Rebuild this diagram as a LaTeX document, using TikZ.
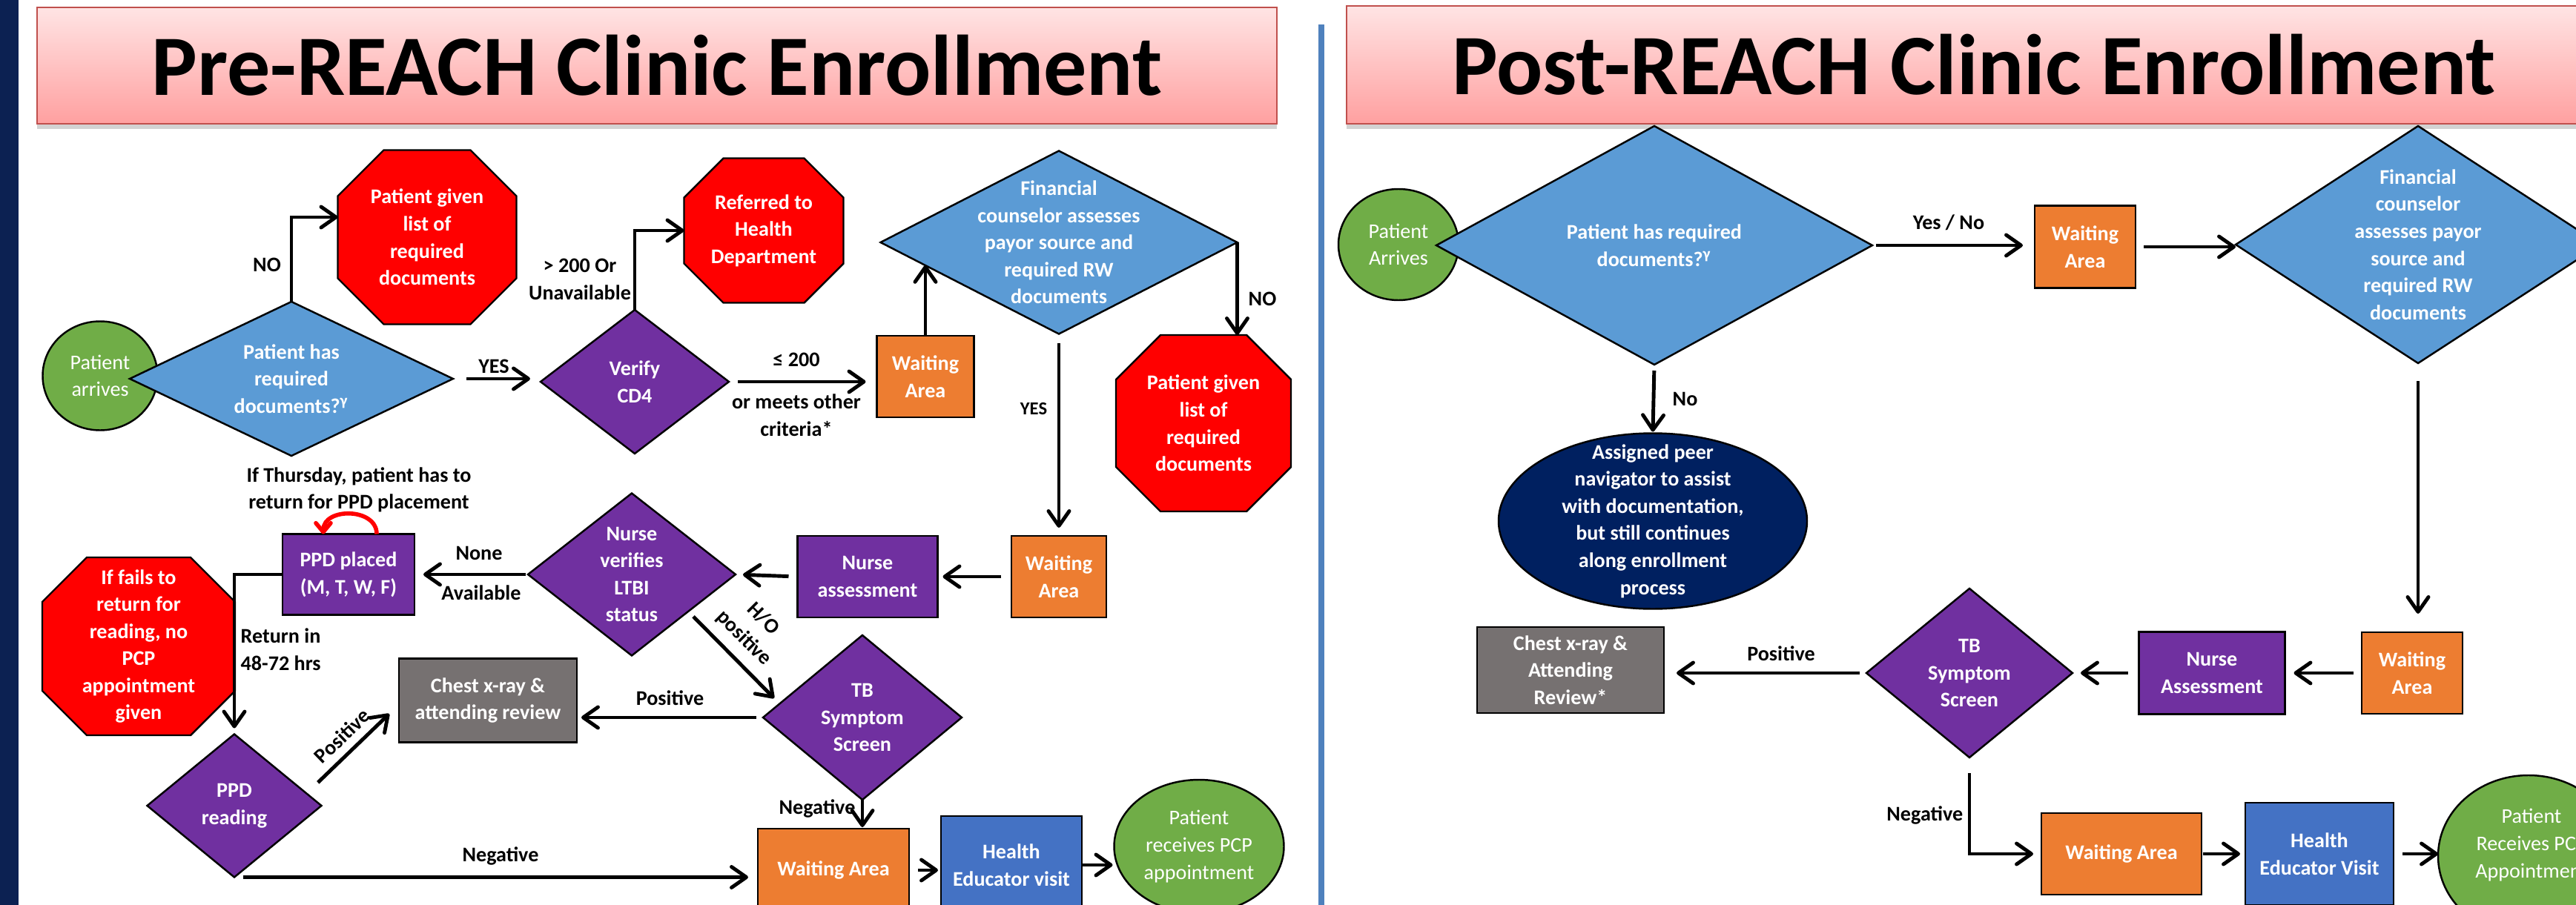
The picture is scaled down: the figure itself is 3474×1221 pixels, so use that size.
\documentclass[tikz,border=0pt]{standalone}
\usepackage{fontspec}
\setmainfont{Carlito}
\usetikzlibrary{shapes.geometric,arrows.meta,shadows,calc}
\definecolor{cgreen}{RGB}{112,173,71}
\definecolor{cblue}{RGB}{91,155,213}
\definecolor{cpurple}{RGB}{112,48,160}
\definecolor{corange}{RGB}{237,125,49}
\definecolor{cred}{RGB}{255,0,0}
\definecolor{cgrey}{RGB}{118,113,113}
\definecolor{cdblue}{RGB}{68,114,196}
\definecolor{cnavy}{RGB}{0,32,96}
\definecolor{cbar}{RGB}{12,33,82}
\definecolor{cdiv}{RGB}{79,129,189}
\definecolor{ttop}{RGB}{255,228,228}
\definecolor{tbot}{RGB}{255,160,160}
\definecolor{tborder}{RGB}{192,80,77}
\tikzset{
 shp/.style={draw=black, line width=0.7pt, inner sep=0pt, outer sep=0pt},
 sz/.style 2 args={minimum width=#1*0.01cm, minimum height=#2*0.01cm},
 dia/.style={shp, diamond},
 box/.style={shp, rectangle},
 oval/.style={shp, ellipse},
 stopframe/.style={rectangle, inner sep=0pt, outer sep=0pt},
 stopfill/.style={fill=cred, draw=black, line width=0.7pt},
 txt/.style={text=white, font=\fontsize{8}{10.4}\selectfont\bfseries, align=center, inner sep=0pt},
 txtl/.style={text=white, font=\fontsize{8}{10.4}\selectfont, align=center, inner sep=0pt},
 lbl/.style={text=black, font=\fontsize{8}{10.4}\selectfont\bfseries, align=center, inner sep=0pt},
 conn/.style={line width=1.4pt, -{Straight Barb[length=2mm,width=2.8mm,round]}},
 redloop/.style={draw=cred, line width=1.6pt, -{Straight Barb[length=1.2mm,width=2mm,round]}},
 ttl/.style={draw=tborder, line width=0.8pt, top color=ttop, bottom color=tbot,
   drop shadow={shadow xshift=0pt, shadow yshift=-2pt, opacity=0.35},
   font=\fontsize{33}{38}\selectfont\bfseries, inner sep=0pt},
}
% octagon drawn round a named frame node: #1 node name, #2 chamfer (px)
\newcommand{\octofill}[2]{%
  \path[stopfill] ($(#1.north west)+(#2,0)$) -- ($(#1.north east)+(-#2,0)$)
   -- ($(#1.north east)+(0,#2)$) -- ($(#1.south east)+(0,-#2)$)
   -- ($(#1.south east)+(-#2,0)$) -- ($(#1.south west)+(#2,0)$)
   -- ($(#1.south west)+(0,-#2)$) -- ($(#1.north west)+(0,#2)$) -- cycle;}
\begin{document}
\begin{tikzpicture}[x=0.01cm, y=-0.01cm]
\useasboundingbox (0,0) rectangle (3474,1221);
\clip (0,0) rectangle (3474,1221);
\fill[white] (0,0) rectangle (3474,1221);
\fill[cbar] (0,0) rectangle (25,1221);
\fill[cdiv] (1778,33) rectangle (1786,1221);

% titles
\node[ttl, sz={1672}{157}] (t1) at (886,88.5) {Pre-REACH Clinic Enrollment};
\node[ttl, sz={1692}{159}] (t2) at (2662,87.5) {Post-REACH Clinic Enrollment};

% ---------------- LEFT PANEL ----------------
\node[oval, fill=cgreen, sz={155}{147}] (a1) at (135,507) {};
\node[txtl] (a1t) at (a1.center) {Patient\\arrives};
\node[dia, fill=cblue, sz={436}{208}] (d1) at (393,511) {};
\node[txt] (d1t) at (d1.center) {Patient has\\required\\documents?\textsuperscript{γ}};
\node[stopframe, sz={241}{235}] (o1) at (576,320) {};
\octofill{o1}{62}
\node[txt] (o1t) at (o1.center) {Patient given\\list of\\required\\documents};
\node[dia, fill=cpurple, sz={254}{194}] (v) at (856,515) {};
\node[txt] (vt) at (v.center) {Verify\\CD4};
\node[stopframe, sz={215}{195}] (o2) at (1030,311) {};
\octofill{o2}{53}
\node[txt] (o2t) at (o2.center) {Referred to\\Health\\Department};
\node[box, fill=corange, sz={131}{110}] (w1) at (1248,508) {};
\node[txt] (w1t) at (w1.center) {Waiting\\Area};
\node[dia, fill=cblue, sz={481}{247}] (f1) at (1428,327) {};
\node[txt] (f1t) at (f1.center) {Financial\\counselor assesses\\payor source and\\required RW\\documents};
\node[stopframe, sz={236}{238}] (o3) at (1623,571) {};
\octofill{o3}{60}
\node[txt] (o3t) at (o3.center) {Patient given\\list of\\required\\documents};
\node[box, fill=corange, sz={128}{110}] (w2) at (1428,778) {};
\node[txt] (w2t) at (w2.center) {Waiting\\Area};
\node[box, fill=cpurple, sz={189}{110}] (na) at (1170,778) {};
\node[txt] (nat) at (na.center) {Nurse\\assessment};
\node[dia, fill=cpurple, sz={280}{219}] (nv) at (852,775) {};
\node[txt] (nvt) at (nv.center) {Nurse\\verifies\\LTBI\\status};
\node[box, fill=cpurple, sz={178}{109}] (ppd) at (470,775) {};
\node[txt] (ppdt) at (ppd.center) {PPD placed\\(M, T, W, F)};
\node[stopframe, sz={260}{240}] (o4) at (187,872) {};
\octofill{o4}{60}
\node[txt] (o4t) at (o4.center) {If fails to\\return for\\reading, no\\PCP\\appointment\\given};
\node[dia, fill=cpurple, sz={235}{193}] (pr) at (316,1087) {};
\node[txt] (prt) at (pr.center) {PPD\\reading};
\node[box, fill=cgrey, sz={240}{113}] (cx) at (658,945) {};
\node[txt] (cxt) at (cx.center) {Chest x-ray \&\\attending review};
\node[dia, fill=cpurple, sz={268}{222}] (tb) at (1163,968) {};
\node[txt] (tbt) at (tb.center) {TB\\Symptom\\Screen};
\node[box, fill=corange, sz={204}{112}] (w3) at (1124,1174) {};
\node[txt] (w3t) at (w3.center) {Waiting Area};
\node[box, fill=cdblue, sz={190}{132}] (he) at (1364,1167) {};
\node[txt] (het) at (he.center) {Health\\Educator visit};
\node[oval, fill=cgreen, sz={229}{180}] (pc) at (1617,1142) {};
\node[txtl] (pct) at (pc.center) {Patient\\receives PCP\\appointment};

% left connectors
\draw[conn] (d1.north) |- ([yshift=0.27cm]o1.west);
\node[lbl] (lno1) at (360,357) {NO};
\draw[conn, shorten <=0.18cm, shorten >=0.14cm] (d1.east) -- (d1.east -| v.west);
\node[lbl] (lyes1) at (666,494) {YES};
\draw[conn] (v.north) |- (o2.west);
\node[lbl] (l200) at (782,377) {> 200 Or\\Unavailable};
\draw[conn, shorten <=0.12cm, shorten >=0.15cm] (v.east) -- (v.east -| w1.west);
\node[lbl] (lle) at (1074,485) {≤ 200};
\node[lbl] (lcrit) at (1074,560) {or meets other\\criteria*};
\coordinate (f1e) at ($(f1.west)!0.25!(f1.south)$);
\draw[conn] (w1.north) -- (w1.north |- f1e);
\draw[conn] (f1.east) -- (f1.east |- o3.north);
\node[lbl, anchor=west] (lno2) at (1683,403) {NO};
\draw[conn, shorten <=0.12cm, shorten >=0.11cm] (f1.south) -- (f1.south |- w2.north);
\node[lbl, font=\fontsize{7}{8}\selectfont\bfseries] (lyes2) at (1394,552) {YES};
\draw[conn, shorten <=0.14cm, shorten >=0.07cm] (w2.west) -- (na.east);
\draw[conn, shorten <=0.12cm, shorten >=0.1cm] (na.west) -- (nv.east);
\draw[conn, shorten <=0.03cm, shorten >=0.12cm] (nv.west) -- (ppd.east);
\node[lbl] (lnone) at (646,746) {None};
\node[lbl] (lavail) at (649,800) {Available};
\draw[conn, shorten >=0.08cm] (ppd.west) -| (pr.north);
\node[lbl, anchor=west, align=left] (lret) at (324,876) {Return in\\48-72 hrs};
\draw[redloop] ([xshift=0.38cm]ppd.north) .. controls +(0,0.36cm) and +(0,0.36cm) .. ([xshift=-0.34cm]ppd.north);
\node[lbl] (lthu) at (484,661) {If Thursday, patient has to\\return for PPD placement};
\draw[conn] ($(pr.north east)+(54,17)$) -- ($(cx.west)+(-13,18)$)
  node[lbl, midway, sloped, above=3pt] (lpos1) {Positive};
\draw[conn, shorten <=0.09cm, shorten >=0.06cm] (tb.west) -- (tb.west -| cx.east)
  node[lbl, midway, above=4pt] (lpos2) {Positive};
\draw[conn] ($(nv.south east)+(13,2)$) -- ($(tb.west)+(15,-26)$);
\node[lbl, rotate=-45] (lho) at (1016,848) {H/O\\positive};
\draw[conn, shorten >=0.02cm] (tb.south) -- (tb.south |- w3.north);
\node[lbl] (lneg1) at (1102,1091) {Negative};
\draw[conn, shorten <=0.12cm, shorten >=0.13cm] (pr.south) -- (pr.south -| w3.west);
\node[lbl] (lneg2) at (675,1155) {Negative};
\draw[conn, shorten <=0.12cm, shorten >=0.04cm] (w3.east) -- (w3.east -| he.west);
\draw[conn, shorten >=0.02cm] (he.east) -- (he.east -| pc.west);

% ---------------- RIGHT PANEL ----------------
\node[oval, fill=cgreen, sz={162}{150}] (ra) at (1886,330) {};
\node[txtl] (rat) at (ra.center) {Patient\\Arrives};
\node[dia, fill=cblue, sz={588}{322}] (rd1) at (2231,331) {};
\node[txt] (rd1t) at (rd1.center) {Patient has required\\documents?\textsuperscript{γ}};
\node[oval, fill=cnavy, sz={416}{237}] (nav) at (2229,703) {};
\node[txt] (navt) at (nav.center) {Assigned peer\\navigator to assist\\with documentation,\\but still continues\\along enrollment\\process};
\node[box, fill=corange, sz={136}{111}] (rw1) at (2812,333) {};
\node[txt] (rw1t) at (rw1.center) {Waiting\\Area};
\node[dia, fill=cblue, sz={492}{320}] (rf) at (3261,330) {};
\node[txt] (rft) at (rf.center) {Financial\\counselor\\assesses payor\\source and\\required RW\\documents};
\node[box, fill=corange, sz={136}{110}] (rw2) at (3253,908) {};
\node[txt] (rw2t) at (rw2.center) {Waiting\\Area};
\node[box, fill=cpurple, sz={197}{111}] (rna) at (2983,908) {};
\node[txt] (rnat) at (rna.center) {Nurse\\Assessment};
\node[dia, fill=cpurple, sz={278}{228}] (rtb) at (2656,908) {};
\node[txt] (rtbt) at (rtb.center) {TB\\Symptom\\Screen};
\node[box, fill=cgrey, sz={252}{116}] (rcx) at (2118,904) {};
\node[txt] (rcxt) at (rcx.center) {Chest x-ray \&\\Attending\\Review*};
\node[box, fill=corange, sz={216}{110}] (rw3) at (2861,1152) {};
\node[txt] (rw3t) at (rw3.center) {Waiting Area};
\node[box, fill=cdblue, sz={200}{138}] (rhe) at (3128,1152) {};
\node[txt] (rhet) at (rhe.center) {Health\\Educator Visit};
\node[oval, fill=cgreen, sz={244}{218}] (rpc) at (3410,1155) {};
\node[txtl] (rpct) at (3414,1140) {Patient\\Receives PCP\\Appointment};

% right connectors
\draw[conn, shorten <=0.08cm, shorten >=0.02cm] (rd1.south) -- (nav.north);
\node[lbl, anchor=west] (lno3) at (2255,538) {No};
\draw[conn, shorten <=0.05cm, shorten >=0.16cm] (rd1.east) -- (rd1.east -| rw1.west);
\node[lbl] (lyn) at (2628,300) {Yes / No};
\draw[conn, shorten <=0.11cm] (rw1.east) -- (rw1.east -| rf.west);
\draw[conn, shorten <=0.24cm, shorten >=0.25cm] (rf.south) -- (rf.south |- rw2.north);
\draw[conn, shorten <=0.11cm, shorten >=0.12cm] (rw2.west) -- (rna.east);
\draw[conn, shorten <=0.15cm, shorten >=0.11cm] (rna.west) -- (rtb.east);
\draw[conn, shorten <=0.09cm, shorten >=0.17cm] (rtb.west) -- (rtb.west -| rcx.east);
\node[lbl] (lpos3) at (2402,882) {Positive};
\draw[conn, shorten <=0.21cm, shorten >=0.11cm] (rtb.south) |- (rw3.west);
\node[lbl, anchor=east] (lneg3) at (2648,1100) {Negative};
\draw[conn, shorten <=0.02cm, shorten >=0.07cm] (rw3.east) -- (rhe.west);
\draw[conn, shorten <=0.12cm] (rhe.east) -- (rhe.east -| rpc.west);
\end{tikzpicture}
\end{document}
